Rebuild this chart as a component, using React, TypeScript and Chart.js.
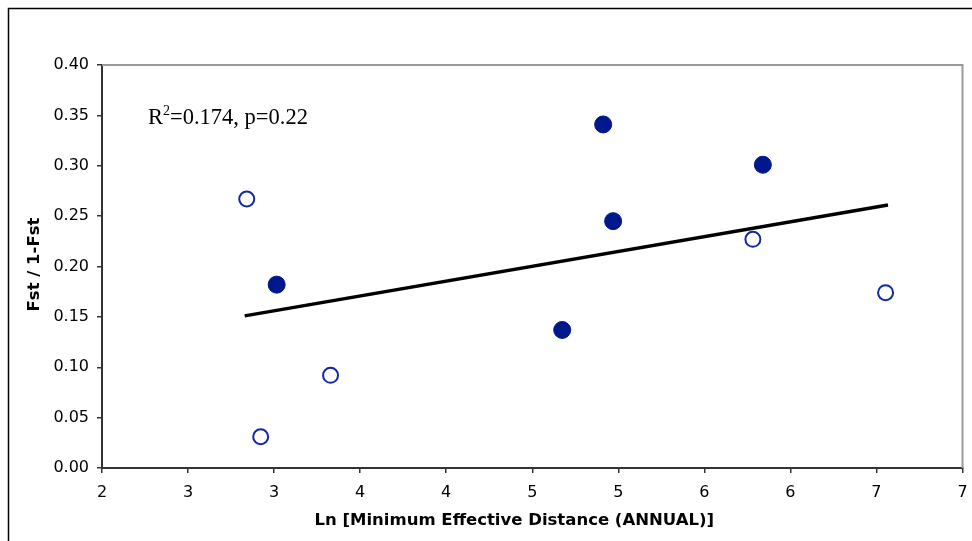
import React, { useEffect, useRef } from "react";
import { Chart, registerables } from "chart.js";

Chart.register(...registerables);

const hollowX = [2.841, 2.922, 3.328, 5.782, 6.553];
const hollowY = [0.267, 0.031, 0.092, 0.227, 0.174];
const filledX = [3.015, 4.674, 4.912, 4.97, 5.84];
const filledY = [0.182, 0.137, 0.341, 0.245, 0.301];
const trendX = [2.829, 6.567];
const trendY = [0.151, 0.261];
const xTickLabels = ["2", "3", "3", "4", "4", "5", "5", "6", "6", "7", "7"];
const xTitle = "Ln [Minimum Effective Distance (ANNUAL)]";
const yTitle = "Fst / 1-Fst";
const annotation = { base: "R", sup: "2", rest: "=0.174, p=0.22" };

const toPts = (xs: number[], ys: number[]) => xs.map((x, i) => ({ x, y: ys[i] }));

const framePlugin = {
  id: "frame",
  beforeDraw(chart: any) {
    const { ctx } = chart;
    ctx.save();
    ctx.fillStyle = "#ffffff";
    ctx.fillRect(0, 0, chart.width, chart.height);
    ctx.strokeStyle = "#000000";
    ctx.lineWidth = 1.5;
    ctx.strokeRect(8.5, 8.5, chart.width + 50, chart.height + 50);
    ctx.restore();
  },
  afterDraw(chart: any) {
    const { ctx, chartArea: a } = chart;
    ctx.save();
    ctx.strokeStyle = "#9a9a9a";
    ctx.lineWidth = 2;
    ctx.beginPath();
    ctx.moveTo(a.left, a.top);
    ctx.lineTo(a.right, a.top);
    ctx.lineTo(a.right, a.bottom);
    ctx.stroke();
    ctx.fillStyle = "#000000";
    ctx.font = "bold 16.5px 'DejaVu Sans'";
    ctx.textAlign = "center";
    ctx.textBaseline = "middle";
    ctx.fillText(xTitle, a.left + (a.right - a.left) / 2 - 18, a.bottom + 53);
    ctx.save();
    ctx.translate(35, a.top + (a.bottom - a.top) / 2 - 2);
    ctx.rotate(-Math.PI / 2);
    ctx.fillText(yTitle, 0, 0);
    ctx.restore();
    ctx.textAlign = "left";
    ctx.textBaseline = "alphabetic";
    ctx.font = "22.5px 'Liberation Serif'";
    const x0 = a.left + 46;
    const y0 = a.top + 59;
    ctx.fillText(annotation.base, x0, y0);
    let w = ctx.measureText(annotation.base).width;
    ctx.font = "14px 'Liberation Serif'";
    ctx.fillText(annotation.sup, x0 + w, y0 - 9);
    w += ctx.measureText(annotation.sup).width;
    ctx.font = "22.5px 'Liberation Serif'";
    ctx.fillText(annotation.rest, x0 + w, y0);
    ctx.restore();
  },
};

export default function App() {
  const ref = useRef<HTMLCanvasElement | null>(null);
  useEffect(() => {
    if (!ref.current) return;
    const tickFont = { family: "'DejaVu Sans'", size: 16 };
    const chart = new Chart(ref.current, {
      type: "scatter",
      data: {
        datasets: [
          {
            type: "line",
            data: toPts(trendX, trendY),
            borderColor: "#000000",
            borderWidth: 3.5,
            pointRadius: 0,
            fill: false,
          } as any,
          {
            data: toPts(filledX, filledY),
            pointRadius: 8.5,
            pointBackgroundColor: "#00188c",
            pointBorderColor: "#00188c",
            pointBorderWidth: 1,
          },
          {
            data: toPts(hollowX, hollowY),
            pointRadius: 7.5,
            pointBackgroundColor: "#ffffff",
            pointBorderColor: "#1428a0",
            pointBorderWidth: 2,
          },
        ],
      },
      options: {
        animation: false,
        responsive: false,
        devicePixelRatio: 1,
        layout: { padding: { top: 65, right: 6, left: 0, bottom: 0 } },
        plugins: { legend: { display: false }, tooltip: { enabled: false } },
        scales: {
          x: {
            type: "linear",
            min: 2,
            max: 7,
            afterFit: (s: any) => {
              s.height = 73;
              s.paddingLeft = 0;
              s.paddingRight = 0;
            },
            ticks: {
              stepSize: 0.5,
              padding: 10,
              color: "#000000",
              font: tickFont,
              maxRotation: 0,
              autoSkip: false,
              callback: (_v: any, i: number) => xTickLabels[i],
            },
            grid: { drawOnChartArea: false, drawTicks: true, tickLength: 5, color: "#333333", lineWidth: 1.5 },
            border: { display: true, color: "#333333", width: 2 },
          },
          y: {
            type: "linear",
            min: 0,
            max: 0.4,
            afterFit: (s: any) => {
              s.width = 102;
              s.paddingTop = 0;
              s.paddingBottom = 0;
            },
            ticks: {
              stepSize: 0.05,
              padding: 8,
              color: "#000000",
              font: tickFont,
              callback: (v: any) => Number(v).toFixed(2),
            },
            grid: { drawOnChartArea: false, drawTicks: true, tickLength: 5, color: "#333333", lineWidth: 1.5 },
            border: { display: true, color: "#333333", width: 2 },
          },
        },
      },
      plugins: [framePlugin],
    });
    return () => chart.destroy();
  }, []);
  return (
    <div style={{ position: "absolute", left: 0, top: 0, width: 972, height: 541 }}>
      <canvas ref={ref} width={972} height={541} style={{ width: 972, height: 541, display: "block" }} />
    </div>
  );
}
